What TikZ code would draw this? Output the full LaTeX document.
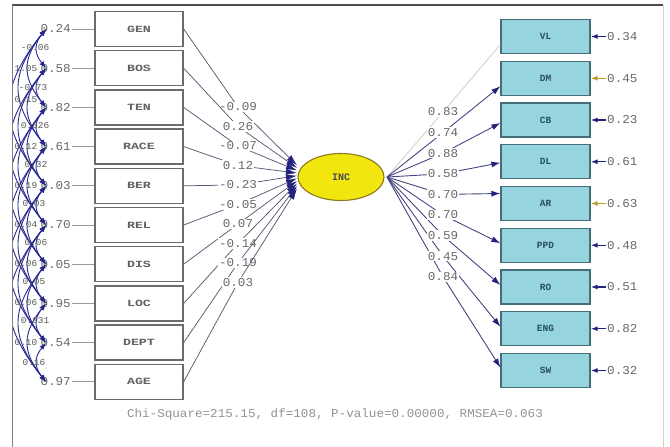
\documentclass[tikz,border=0pt]{standalone}
\usepackage{fontspec}
\usetikzlibrary{arrows.meta,shapes.geometric,calc}
\newfontfamily\valfont[FakeStretch=1.05]{Liberation Mono}
\newfontfamily\lboxfont[FakeStretch=1.4]{Liberation Mono}
\newfontfamily\rboxfont{Liberation Mono}
\definecolor{navy}{RGB}{35,35,125}
\definecolor{lnk}{RGB}{90,90,120}
\definecolor{rlnk}{RGB}{70,70,130}
\definecolor{txt}{RGB}{105,105,105}
\definecolor{cyanbox}{RGB}{150,212,224}
\definecolor{cyanedge}{RGB}{70,110,120}
\definecolor{cyantxt}{RGB}{40,80,90}
\definecolor{incfill}{RGB}{242,230,15}
\definecolor{incedge}{RGB}{140,120,30}
\definecolor{olivearr}{RGB}{180,160,40}
\definecolor{covcol}{RGB}{40,40,145}
\begin{document}
\begin{tikzpicture}[x=1pt,y=-1pt,
  lbox/.style={draw=gray!85!black, line width=1.3pt, fill=white, minimum width=88pt, minimum height=35pt, inner sep=0pt, font=\lboxfont\bfseries\fontsize{9.5}{10}\selectfont, text=gray!75!black},
  rbox/.style={draw=cyanedge, line width=1.2pt, fill=cyanbox, minimum width=89pt, minimum height=34pt, inner sep=0pt, font=\rboxfont\bfseries\fontsize{9.5}{10}\selectfont, text=cyantxt},
  incnode/.style={ellipse, draw=incedge, line width=1.1pt, fill=incfill, minimum width=86pt, minimum height=47pt, inner sep=0pt, font=\rboxfont\bfseries\fontsize{10}{11}\selectfont, text=gray!60!black},
  val/.style={font=\valfont\fontsize{12}{13}\selectfont, text=txt, inner sep=1pt},
  lval/.style={val, fill=white, inner sep=1.2pt},
  lpath/.style={draw=lnk, line width=0.75pt, -{Latex[length=11pt,width=6.5pt,color=navy]}},
  rpath/.style={draw=rlnk, line width=0.9pt, -{Latex[length=9pt,width=6pt,color=navy]}},
  vlpath/.style={draw=gray!35, line width=0.9pt},
  eline/.style={draw=gray!80, line width=1pt},
  earrow/.style={draw=navy, line width=1.3pt, -{Latex[length=7pt,width=5pt]}},
  oarrow/.style={draw=olivearr, line width=1.3pt, -{Latex[length=7pt,width=5pt]}},
  cov/.style={draw=covcol, line width=0.9pt, {Latex[length=7pt,width=5pt]}-{Latex[length=7pt,width=5pt]}},
  covlbl/.style={font=\valfont\fontsize{9}{10}\selectfont, text=gray!70!black, inner sep=0.5pt, anchor=east}
]
\useasboundingbox (0,0) rectangle (670,447);
\fill[white] (0,0) rectangle (670,447);
% frame
\draw[gray!60!black, line width=1.3pt] (12,5) -- (663,5);
\draw[gray, line width=1pt] (12,5) -- (12,447);
\draw[gray!35, line width=0.8pt] (663,5) -- (663,447);

% latent
\node[incnode] (inc) at (341,177) {INC};

% left boxes and their error labels
\foreach \n/\t/\e [count=\i from 0] in {gen/GEN/0.24, bos/BOS/0.58, ten/TEN/0.82, race/RACE/0.61, ber/BER/0.03, rel/REL/0.70, dis/DIS/0.05, loc/LOC/0.95, dept/DEPT/0.54, age/AGE/0.97}{
  \node[lbox] (\n) at (139,{29+39.2*\i}) {\t};
  \node[val, anchor=east] (e\n) at (72,{29+39.2*\i}) {\e};
  \draw[eline] (e\n.east) -- (\n.west);
  \coordinate (cv\i) at (46,{29+39.2*\i});
}

% covariance bows among the errors (clipped by the frame)
\begin{scope}
\clip (13,6) rectangle (663,447);
\foreach \a/\b in {0/1,1/2,2/3,3/4,4/5,5/6,6/7,7/8,8/9,0/2,1/3,2/4,3/5,4/6,5/7,6/8,7/9,0/3,1/4,2/5,3/6,4/7,5/8,6/9,0/4,1/5,2/6,3/7,4/8,5/9}{
  \pgfmathsetmacro\ya{29+39.2*\a}
  \pgfmathsetmacro\yb{29+39.2*\b}
  \pgfmathsetmacro\dd{\b-\a}
  \pgfmathsetmacro\cx{46-12*\dd}
  \pgfmathsetmacro\ck{15*\dd}
  \draw[cov] (cv\a) .. controls ({\cx},{\ya+\ck}) and ({\cx},{\yb-\ck}) .. (cv\b);
}
\node[covlbl] (k1) at (50,48) {-0.06};
\node[covlbl] (k2) at (38,69) {1.05};
\node[covlbl] (k3) at (48,88) {-0.73};
\node[covlbl] (k4) at (38,100) {0.15};
\node[covlbl] (k5) at (50,126) {0.326};
\node[covlbl] (k6) at (38,147) {0.12};
\node[covlbl] (k7) at (48,165) {0.32};
\node[covlbl] (k8) at (38,186) {0.19};
\node[covlbl] (k9) at (46,204) {0.03};
\node[covlbl] (k10) at (38,225) {0.04};
\node[covlbl] (k11) at (48,243) {0.06};
\node[covlbl] (k12) at (38,264) {0.06};
\node[covlbl] (k13) at (46,282) {0.05};
\node[covlbl] (k14) at (38,303) {0.06};
\node[covlbl] (k15) at (50,321) {0.031};
\node[covlbl] (k16) at (38,343) {0.10};
\node[covlbl] (k17) at (46,363) {0.16};
\end{scope}

% left loadings
\foreach \n/\v [count=\i from 0] in {gen/-0.09, bos/0.26, ten/-0.07, race/0.12, ber/-0.23, rel/-0.05, dis/0.07, loc/-0.14, dept/-0.19, age/0.03}{
  \coordinate (lp\i) at (238,{107+19.5*\i});
  \coordinate (tl\i) at (297,{177+(\i-4.5)*2.6});
  \draw[lpath] (\n.east) -- (lp\i) -- (tl\i);
  \node[lval] (ll\i) at (lp\i) {\v};
}

% right boxes
\coordinate (rs) at (387,177);
\foreach \n/\t/\e/\o [count=\i from 0] in {vl/VL/0.34/8, dm/DM/0.45/8, cb/CB/0.23/3, dl/DL/0.61/1, ar/AR/0.63/-10, ppd/PPD/0.48/-2, ro/RO/0.51/-2, eng/ENG/0.82/-2, sw/SW/0.32/-3}{
  \node[rbox] (\n) at (545.5,{36.5+41.75*\i}) {\t};
  \node[val, anchor=west] (r\n) at (606,{36.5+41.75*\i}) {\e};
  \coordinate (rp\i) at (443,{112+20.6*\i});
  \coordinate (re\i) at ($(\n.west)+(0,\o)$);
}
\draw[vlpath] (rs) -- (rp0) -- (re0);
\foreach \i in {1,...,8}{
  \draw[rpath] (rs) -- (rp\i) -- (re\i);
}
\foreach \v [count=\i from 0] in {0.83,0.74,0.88,0.58,0.70,0.70,0.59,0.45,0.84}{
  \node[lval] (rl\i) at (rp\i) {\v};
}
% right error arrows
\draw[earrow] (rvl.west) -- (vl.east);
\draw[oarrow] (rdm.west) -- (dm.east);
\draw[earrow] (rcb.west) -- (cb.east);
\draw[earrow] (rdl.west) -- (dl.east);
\draw[oarrow] (rar.west) -- (ar.east);
\draw[earrow] (rppd.west) -- (ppd.east);
\draw[earrow] (rro.west) -- (ro.east);
\draw[earrow] (reng.west) -- (eng.east);
\draw[earrow] (rsw.west) -- (sw.east);

% fit statistics
\node[val, text=gray!85] (chi) at (335,414) {Chi-Square=215.15, df=108, P-value=0.00000, RMSEA=0.063};
\end{tikzpicture}
\end{document}
